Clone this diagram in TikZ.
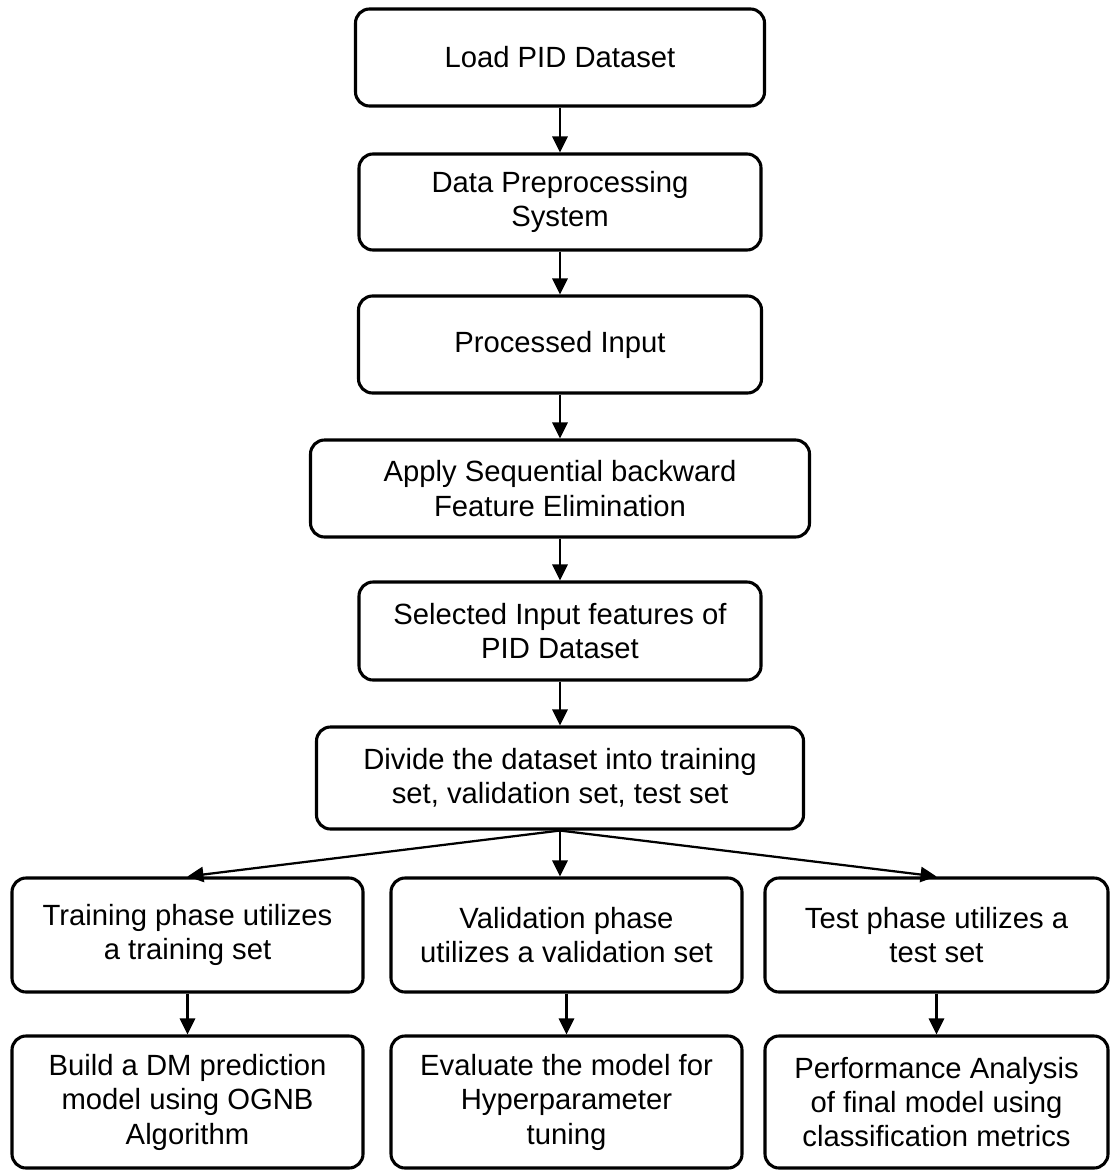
\documentclass[tikz,border=0pt]{standalone}
\usepackage{fontspec}
\setmainfont{Liberation Sans}
\usetikzlibrary{arrows.meta}

\begin{document}
\begin{tikzpicture}[
    stage/.style={draw, line width=2.2pt, rounded corners=0.35cm, align=center,
        inner sep=0pt, font=\fontsize{20.8}{24.5}\selectfont},
    flow/.style={line width=1.6pt, -{Triangle[length=0.4cm,width=0.38cm]}}]

    % Fix the page to the size of the figure
    \useasboundingbox (0,0) rectangle (27.75,-29.275);

    % Main column of processing steps
    \node[stage, minimum width=10.225cm, minimum height=2.425cm] (load) at (14,-1.4375) {Load PID Dataset};
    \node[stage, minimum width=10.05cm, minimum height=2.4cm] (prep) at (14,-5.05) {Data Preprocessing\\System};
    \node[stage, minimum width=10.075cm, minimum height=2.425cm] (input) at (14,-8.6125) {Processed Input};
    \node[stage, minimum width=12.475cm, minimum height=2.425cm] (sbfe) at (14,-12.2125) {Apply Sequential backward\\Feature Elimination};
    \node[stage, minimum width=10.05cm, minimum height=2.45cm] (select) at (14,-15.775) {Selected Input features of\\PID Dataset};
    \node[stage, minimum width=12.175cm, minimum height=2.55cm] (divide) at (14,-19.45) {Divide the dataset into training\\set, validation set, test set};

    % The three phases
    \node[stage, minimum width=8.775cm, minimum height=2.85cm] (train) at (4.6875,-23.375) {Training phase utilizes\\a training set};
    \node[stage, minimum width=8.775cm, minimum height=2.85cm] (valid) at (14.1625,-23.375) {Validation phase\\utilizes a validation set};
    \node[stage, minimum width=8.575cm, minimum height=2.85cm] (test) at (23.4125,-23.375) {Test phase utilizes a\\test set};

    % Results of each phase
    \node[stage, minimum width=8.775cm, minimum height=3.3cm] (build) at (4.6875,-27.55) {Build a DM prediction\\model using OGNB\\Algorithm};
    \node[stage, minimum width=8.775cm, minimum height=3.3cm] (tune) at (14.1625,-27.55) {Evaluate the model for\\Hyperparameter\\tuning};
    \node[stage, minimum width=8.575cm, minimum height=3.3cm] (perf) at (23.4125,-27.55) {Performance Analysis\\of final model using\\classification metrics};

    % Arrows down the main column
    \draw[flow] (load) -- (prep);
    \draw[flow] (prep) -- (input);
    \draw[flow] (input) -- (sbfe);
    \draw[flow] (sbfe) -- (select);
    \draw[flow] (select) -- (divide);

    % Split into the three sets
    \draw[flow] (divide.south) -- (train.north);
    \draw[flow] (divide.south) -- (divide.south |- valid.north);
    \draw[flow] (divide.south) -- (test.north);

    % Each phase leads to its result
    \draw[flow] (train) -- (build);
    \draw[flow] (valid) -- (tune);
    \draw[flow] (test) -- (perf);

\end{tikzpicture}
\end{document}
